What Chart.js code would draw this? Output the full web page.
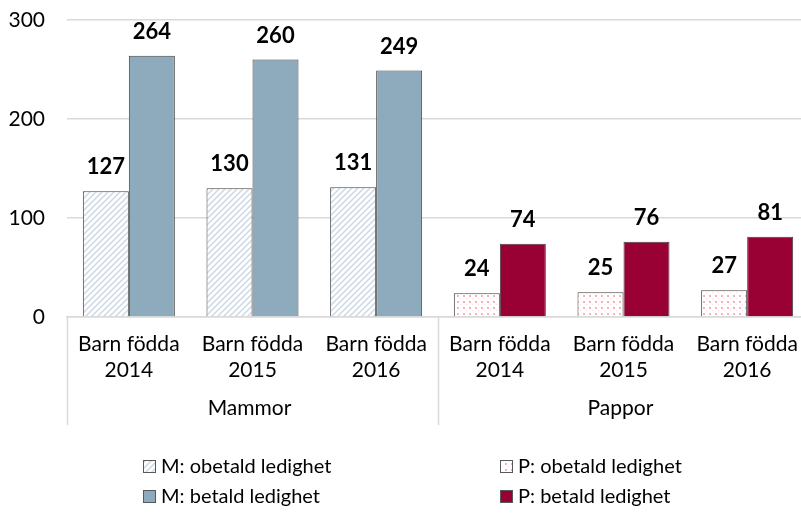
<!DOCTYPE html>
<html>
<head>
<meta charset="utf-8">
<script src="https://cdn.jsdelivr.net/npm/chart.js@4"></script>
<style>
  html, body { margin: 0; padding: 0; background: #fff; overflow: hidden; }
</style>
</head>
<body>
<canvas id="grafica" width="809" height="514"></canvas>
<script>
const kategorier = [
  ['Barn födda', '2014'], ['Barn födda', '2015'], ['Barn födda', '2016'],
  ['Barn födda', '2014'], ['Barn födda', '2015'], ['Barn födda', '2016']
];
const grupper = ['Mammor', 'Pappor'];
const mammorObetald = [127, 130, 131, null, null, null];
const mammorBetald = [264, 260, 249, null, null, null];
const papporObetald = [null, null, null, 24, 25, 27];
const papporBetald = [null, null, null, 74, 76, 81];
const yTicks = [0, 100, 200, 300];

const typsnitt = 'Lato, "Open Sans", sans-serif';

// mönster för obetald ledighet
function randMonster() {
  const c = document.createElement('canvas');
  c.width = 6; c.height = 6;
  const g = c.getContext('2d');
  g.fillStyle = '#ffffff';
  g.fillRect(0, 0, 6, 6);
  g.strokeStyle = '#ccd8e2';
  g.lineWidth = 1.5;
  g.beginPath();
  g.moveTo(-1, 7); g.lineTo(7, -1);
  g.moveTo(-4, 4); g.lineTo(4, -4);
  g.moveTo(2, 10); g.lineTo(10, 2);
  g.stroke();
  return g.createPattern(c, 'repeat');
}

function prickMonster() {
  const c = document.createElement('canvas');
  c.width = 6; c.height = 6;
  const g = c.getContext('2d');
  g.fillStyle = '#ffffff';
  g.fillRect(0, 0, 6, 6);
  g.fillStyle = '#f3b3bc';
  g.fillRect(1, 1, 2, 2);
  g.fillStyle = '#f9d9dd';
  g.fillRect(4, 4, 1, 1);
  return g.createPattern(c, 'repeat');
}

const ctx = document.getElementById('grafica').getContext('2d');

const vardeEtiketter = {
  id: 'vardeEtiketter',
  afterDatasetsDraw(chart) {
    const c = chart.ctx;
    c.save();
    c.font = 'bold 22px ' + typsnitt;
    c.fillStyle = '#000';
    c.textAlign = 'center';
    c.textBaseline = 'middle';
    chart.data.datasets.forEach((ds, i) => {
      const meta = chart.getDatasetMeta(i);
      meta.data.forEach((el, j) => {
        const v = ds.data[j];
        if (v === null || v === undefined) return;
        c.fillText(String(v), el.x, el.y - 24);
      });
    });
    c.restore();
  }
};

const grupperOchLinjer = {
  id: 'grupperOchLinjer',
  afterDraw(chart) {
    const c = chart.ctx;
    const x = chart.scales.x;
    const area = chart.chartArea;
    const per = kategorier.length / grupper.length;
    c.save();
    c.strokeStyle = '#d9d9d9';
    c.lineWidth = 1.5;
    for (let k = 0; k <= grupper.length; k++) {
      let px;
      if (k === 0) px = area.left;
      else if (k === grupper.length) px = area.right;
      else px = (x.getPixelForValue(k * per - 1) + x.getPixelForValue(k * per)) / 2;
      c.beginPath();
      c.moveTo(Math.round(px) + 0.5, area.bottom);
      c.lineTo(Math.round(px) + 0.5, area.bottom + 108);
      c.stroke();
    }
    c.font = '21px ' + typsnitt;
    c.fillStyle = '#000';
    c.textAlign = 'center';
    c.textBaseline = 'middle';
    grupper.forEach((namn, k) => {
      const a = x.getPixelForValue(k * per);
      const b = x.getPixelForValue(k * per + per - 1);
      c.fillText(namn, (a + b) / 2 - 3, area.bottom + 91);
    });

    // förklaring i två kolumner
    const kolumner = [143, 500];
    const rader = [467, 497];
    const ordning = [0, 2, 1, 3];
    c.textAlign = 'left';
    c.font = '20px ' + typsnitt;
    ordning.forEach((di, n) => {
      const ds = chart.data.datasets[di];
      const bx = kolumner[n % 2];
      const by = rader[Math.floor(n / 2)];
      c.fillStyle = ds.backgroundColor;
      c.fillRect(bx, by - 7, 13, 13);
      c.strokeStyle = '#595959';
      c.lineWidth = 1;
      c.strokeRect(bx + 0.5, by - 6.5, 12, 12);
      c.fillStyle = '#000';
      c.fillText(ds.label, bx + 18, by);
    });
    c.restore();
  }
};

const chart = new Chart(ctx, {
  type: 'bar',
  data: {
    labels: kategorier,
    datasets: [
      { label: 'M: obetald ledighet', data: mammorObetald, backgroundColor: randMonster(), borderColor: '#404040', borderWidth: 1 },
      { label: 'M: betald ledighet', data: mammorBetald, backgroundColor: '#8eaabd', borderColor: '#404040', borderWidth: 1 },
      { label: 'P: obetald ledighet', data: papporObetald, backgroundColor: prickMonster(), borderColor: '#404040', borderWidth: 1 },
      { label: 'P: betald ledighet', data: papporBetald, backgroundColor: '#990033', borderColor: '#404040', borderWidth: 1 }
    ]
  },
  options: {
    responsive: false,
    animation: false,
    devicePixelRatio: 1,
    datasets: {
      bar: { skipNull: true, categoryPercentage: 0.744, barPercentage: 1 }
    },
    layout: { padding: { top: 20, right: 0, bottom: 89, left: 0 } },
    plugins: {
      legend: { display: false },
      tooltip: { enabled: false }
    },
    scales: {
      x: {
        grid: { display: false },
        border: { display: true, color: '#d9d9d9', width: 1.5 },
        ticks: { color: '#000', font: { family: typsnitt, size: 21, lineHeight: 1.25 }, padding: 6, maxRotation: 0, autoSkip: false },
        afterFit(scale) {
          scale.height = 108;
          scale.paddingTop = 0; scale.paddingBottom = 0;
          scale.paddingLeft = 0; scale.paddingRight = 0;
        }
      },
      y: {
        min: 0,
        max: 300,
        afterBuildTicks(scale) { scale.ticks = yTicks.map(v => ({ value: v })); },
        grid: { color: '#d9d9d9', lineWidth: 1.5, drawTicks: false },
        border: { display: false },
        ticks: { color: '#000', font: { family: typsnitt, size: 21 }, padding: 22 },
        afterFit(scale) {
          scale.width = 67;
          scale.paddingTop = 0; scale.paddingBottom = 0;
        }
      }
    }
  },
  plugins: [vardeEtiketter, grupperOchLinjer]
});
</script>
</body>
</html>
